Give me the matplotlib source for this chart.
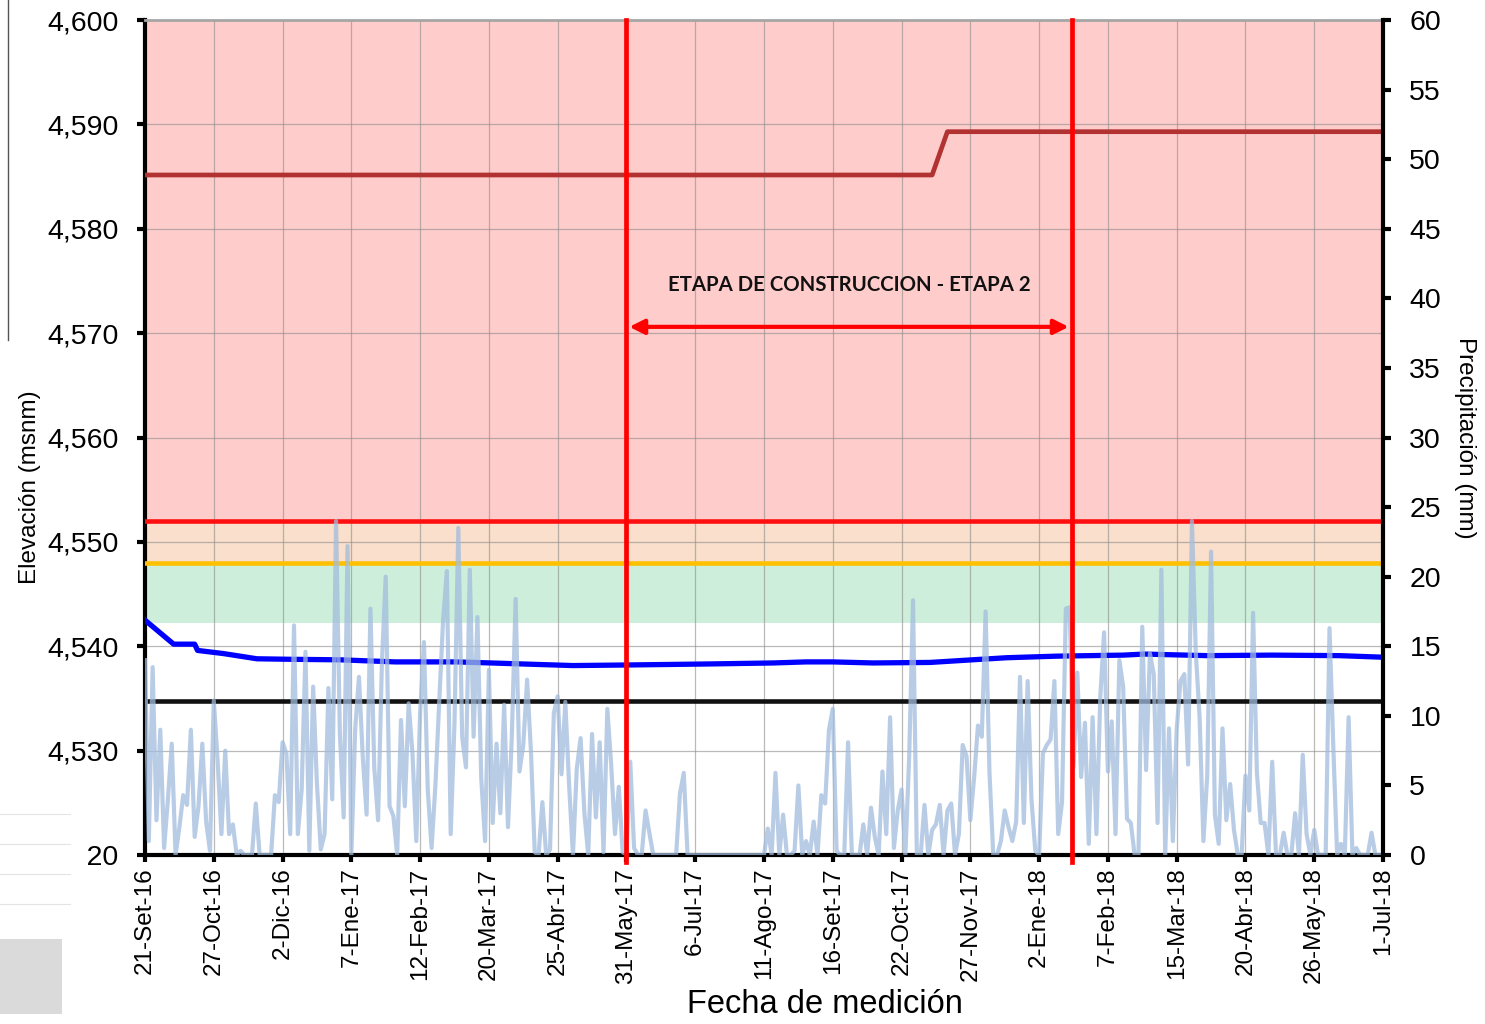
import matplotlib
matplotlib.use("Agg")
import datetime as dt
import numpy as np
import matplotlib.pyplot as plt
import matplotlib.dates as mdates
from matplotlib.ticker import FuncFormatter, MultipleLocator, FixedLocator
from matplotlib.patches import Rectangle
from matplotlib.lines import Line2D

plt.rcParams["font.family"] = ["Liberation Sans", "DejaVu Sans"]

START = dt.date(2016, 9, 21)
N_DAYS = 648
TICK_STEP = 36
MESES = ["Ene", "Feb", "Mar", "Abr", "May", "Jun", "Jul", "Ago", "Set", "Oct", "Nov", "Dic"]

# precipitación (mm), un valor cada 2 días desde 21-Set-16
PRECIP_STEP = 2
PRECIP = [
    14, 1, 13.5, 2.5, 9, 0.5, 4, 8, 0, 2, 4.3, 3.6, 9, 1.3, 3.5, 8, 2.4, 0.3,
    11.1, 6.8, 1.5, 7.5, 1.5, 2.2, 0, 0.3, 0, 0, 0, 3.7, 0, 0, 0, 0, 4.3, 3.8,
    8.1, 7.3, 1.5, 16.5, 1.5, 4.7, 14.6, 0.3, 12.1, 5.1, 0.4, 1.5, 12, 4, 24, 8.7, 2.7, 22.2,
    0, 9, 12.8, 7, 2.9, 17.7, 6.3, 2.5, 13.8, 20, 3.5, 2.8, 0, 9.7, 3.5, 10.9, 7.3, 1,
    10.2, 15.3, 4.7, 0.5, 5, 11, 16.8, 20.4, 1.5, 9.5, 23.5, 8.5, 6.3, 20.5, 8.5, 17.1, 5.5, 1,
    13.3, 2.3, 8, 3, 10.8, 2, 8.5, 18.4, 6, 7.9, 12.6, 7.5, 0.2, 0, 3.8, 0, 0.4, 10.2,
    11.4, 5.8, 11, 5, 0, 6.2, 8.4, 3, 0, 8.7, 2.7, 8.1, 0.2, 10.5, 6.5, 1.5, 4.9, 0.2,
    0, 6.7, 0.5, 0, 0, 3.2, 1.6, 0, 0, 0, 0, 0, 0, 0, 4.4, 5.9, 0, 0,
    0, 0, 0, 0, 0, 0, 0, 0, 0, 0, 0, 0, 0, 0, 0, 0, 0, 0,
    0, 1.9, 0, 5.9, 0, 2.9, 0, 0, 0.3, 5, 0, 1, 0, 2.4, 0, 4.3, 3.7, 9,
    10.5, 0.3, 0, 0, 8.1, 0, 0, 0, 2.2, 0, 3.4, 1.3, 0, 6, 1.5, 9.9, 0.5, 3.2,
    4.7, 0, 7.1, 18.3, 0, 0, 3.6, 0, 1.8, 2.2, 3.6, 0, 3.2, 3.7, 0, 1.5, 7.9, 7.1,
    2.5, 5.6, 9.3, 8.5, 17.5, 6, 0, 0, 1, 3.2, 2, 1, 2.4, 12.8, 2.3, 12.5, 4, 0.3,
    0, 7.3, 7.9, 8.3, 12.5, 1.5, 3.8, 17.7, 17.8, 6.3, 13.1, 5.6, 9.5, 0.8, 9.9, 1.5, 11.3, 16,
    6, 9.6, 1.5, 14, 12.1, 2.6, 2.3, 0, 0, 16.4, 6.1, 14.5, 13, 2.3, 20.5, 0, 9.1, 1,
    9, 12.5, 13, 6.5, 24, 14.6, 9.9, 1, 5.7, 21.8, 2.9, 0.8, 9.1, 2.5, 5.1, 1.8, 0, 0,
    5.7, 3.2, 17.4, 5.9, 2.3, 2.3, 0, 6.7, 0, 0, 1.6, 0, 0, 3, 0, 7.2, 1.5, 0,
    1.8, 0, 0, 0, 16.3, 7.7, 0, 0.8, 0, 9.9, 0, 0.5, 0, 0, 0, 1.6, 0, 0,
]

# nivel piezométrico (msnm): día desde 21-Set-16, elevación
ELEV_DAY = [0, 15, 26, 27.5, 41, 58.5, 76, 102, 131, 163, 181, 198, 224, 250, 294,
            329, 346, 360, 381, 411, 433, 451, 477, 512, 523, 556, 590, 625, 648]
ELEV = [4542.5, 4540.2, 4540.2, 4539.6, 4539.3, 4538.8, 4538.75, 4538.7, 4538.5,
        4538.5, 4538.4, 4538.3, 4538.15, 4538.2, 4538.3, 4538.4, 4538.5, 4538.5,
        4538.4, 4538.45, 4538.7, 4538.9, 4539.05, 4539.15, 4539.25, 4539.1,
        4539.15, 4539.1, 4538.95]

# cota de cresta
CRESTA_DAY = [0, 412, 420, 648]
CRESTA = [4585.15, 4585.15, 4589.3, 4589.3]

# niveles de alerta
LIM_ROJO = 4552.0
LIM_NARANJA = 4548.0
LIM_VERDE = 4542.2
LIM_NEGRO = 4534.8

ETAPA_INI = dt.date(2017, 5, 31)
ETAPA_FIN = dt.date(2018, 1, 19)
ETAPA_TXT = "ETAPA DE CONSTRUCCION - ETAPA 2"

base = mdates.date2num(START)
x_precip = base + np.arange(len(PRECIP)) * PRECIP_STEP
x_elev = base + np.array(ELEV_DAY)
x_cresta = base + np.array(CRESTA_DAY)
x_ticks = base + np.arange(0, N_DAYS + 1, TICK_STEP)


def fecha(v, pos=None):
    d = mdates.num2date(v)
    return f"{d.day}-{MESES[d.month - 1]}-{d.strftime('%y')}"


fig = plt.figure(figsize=(14.85, 10.24), dpi=100)
ax = fig.add_axes([145 / 1485, 1 - 855 / 1024, 1238 / 1485, 835 / 1024])
ax2 = ax.twinx()

# bandas de alerta
ax.axhspan(LIM_ROJO, 4600, color="#FFCCCC", lw=0, zorder=0)
ax.axhspan(LIM_NARANJA, LIM_ROJO, color="#F9DFCC", lw=0, zorder=0)
ax.axhspan(LIM_VERDE, LIM_NARANJA, color="#CCEEDA", lw=0, zorder=0)

ax.axhline(LIM_ROJO, color="#FF1010", lw=3.3, zorder=3)
ax.axhline(LIM_NARANJA, color="#FFC000", lw=3.3, zorder=3)
ax.axhline(LIM_NEGRO, color="#111111", lw=3.3, zorder=3)
ax.plot(x_cresta, CRESTA, color="#B23232", lw=3.4, zorder=3)
ax.plot(x_elev, ELEV, color="#0000FF", lw=3.8, zorder=4)

ax.set_xlim(base, base + N_DAYS)
ax.set_ylim(4520, 4600)
ax.yaxis.set_major_locator(MultipleLocator(10))
ax.yaxis.set_major_formatter(FuncFormatter(lambda v, p: f"{v:,.0f}"))
ax.xaxis.set_major_locator(FixedLocator(x_ticks))
ax.xaxis.set_major_formatter(FuncFormatter(fecha))
ax.grid(True, color="#8c8c8c", alpha=0.6, lw=0.9)

# etapa de construcción
xa = mdates.date2num(ETAPA_INI)
xb = mdates.date2num(ETAPA_FIN)
ax.annotate("", xy=(xa + 1.5, 4570.6), xytext=(xb - 1.5, 4570.6),
            arrowprops=dict(arrowstyle="<|-|>", color="#FF0000", lw=3,
                            mutation_scale=22, shrinkA=0, shrinkB=0), zorder=5)
ax.text((xa + xb) / 2, 4574.6, ETAPA_TXT, ha="center", va="center",
        fontsize=14.7, fontweight="bold", family=["Lato", "DejaVu Sans"], color="#111111")

# precipitación
ax2.plot(x_precip, PRECIP, color="#A1BCDD", alpha=0.75, lw=3.0, zorder=2)
ax2.set_ylim(0, 60)
ax2.yaxis.set_major_locator(MultipleLocator(5))
for xv in (xa, xb):
    ax2.plot([xv, xv], [-0.5, 60], color="#FF0000", lw=3.4, zorder=5, clip_on=False)

# ejes
ax.spines["top"].set_color("#A6A6A6")
ax.spines["top"].set_linewidth(2)
for s in ("left", "bottom"):
    ax.spines[s].set_linewidth(3)
    ax.spines[s].set_color("black")
ax.spines["right"].set_visible(False)
for s in ("left", "top", "bottom"):
    ax2.spines[s].set_visible(False)
ax2.spines["right"].set_linewidth(3)

ax.tick_params(axis="y", length=6, width=3, labelsize=20.5, pad=13)
ax.tick_params(axis="x", length=5, width=3, labelsize=17.5, pad=4, labelrotation=90)
ax2.tick_params(axis="y", length=6, width=3, labelsize=20.5, pad=13)

ax.set_ylabel("Elevación (msnm)", fontsize=17.5, va="center")
ax.yaxis.set_label_coords(-0.093, 0.44)
ax2.set_ylabel("Precipitación (mm)", fontsize=17.5, rotation=270, va="center")
ax2.yaxis.set_label_coords(1.066, 0.5)
ax.set_xlabel("Fecha de medición", fontsize=23.5)
ax.xaxis.set_label_coords(0.549, -0.16)

# recortes de la captura original (miniaturas a la izquierda)
fig.patches.append(Rectangle((0, 0), 86 / 1485, 234 / 1024, transform=fig.transFigure,
                             facecolor="white", edgecolor="none", zorder=10))
fig.patches.append(Rectangle((0, 10 / 1024), 62 / 1485, 75 / 1024, transform=fig.transFigure,
                             facecolor="#DADADA", edgecolor="none", zorder=11))
for yy in (120, 150, 180, 210):
    fig.lines.append(Line2D([0, 70 / 1485], [yy / 1024, yy / 1024], transform=fig.transFigure,
                            color="#E4E4E4", lw=0.8, zorder=11))
fig.lines.append(Line2D([8 / 1485, 8 / 1485], [1 - 340 / 1024, 1], transform=fig.transFigure,
                        color="#555555", lw=1, zorder=11))

fig.savefig("out.png", dpi=100, facecolor="white")
